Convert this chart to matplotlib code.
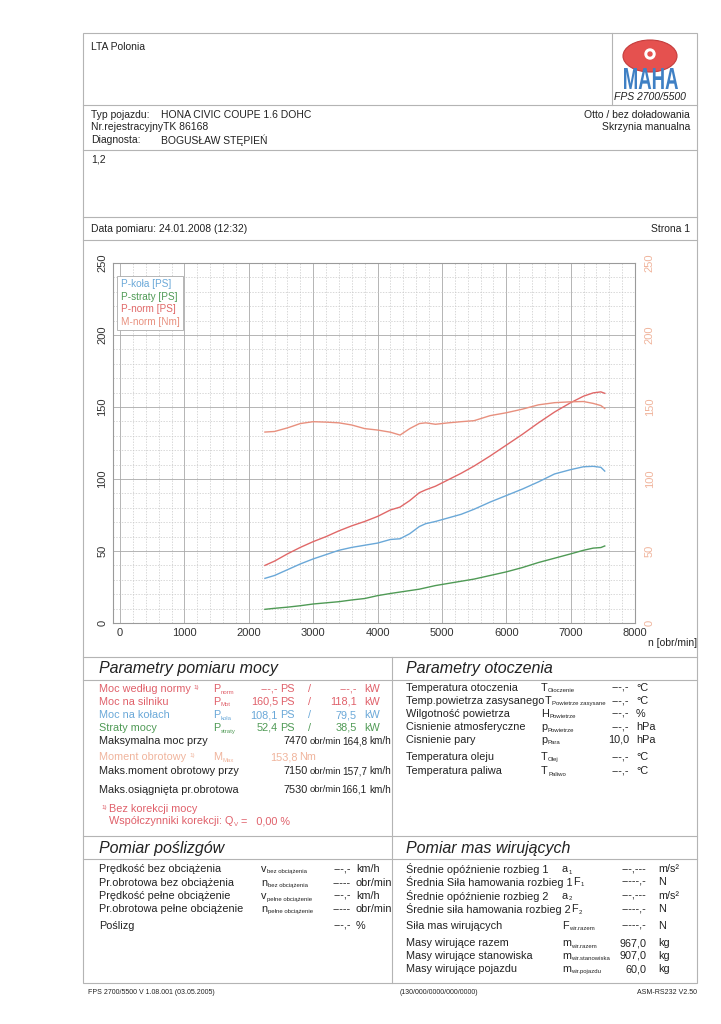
import matplotlib
matplotlib.use("Agg")
import matplotlib.pyplot as plt
from matplotlib.lines import Line2D
from matplotlib.patches import Ellipse, Circle, Rectangle, PathPatch
from matplotlib.textpath import TextPath
from matplotlib.font_manager import FontProperties
from matplotlib.transforms import Affine2D

plt.rcParams['font.family'] = ['Liberation Sans', 'DejaVu Sans']

W, H = 721, 1024

# curves (rpm, PS / Nm)
rpm = [2250, 2400, 2600, 2800, 3000, 3200, 3400, 3600, 3800, 4000, 4200, 4350, 4500, 4650,
       4750, 4900, 5100, 5300, 5500, 5750, 6000, 6250, 6500, 6750, 7000, 7200, 7350, 7470, 7530]
p_kola = [31, 33, 37, 41, 44.5, 47.5, 50.5, 52.5, 54, 55.5, 58, 58.5, 62, 67,
          69, 70.5, 73, 75.5, 79, 84, 88.5, 93, 98, 103.5, 106.5, 108.5, 108.8, 108.1, 105.5]
p_straty = [9.5, 10.2, 11, 12, 13.2, 14, 14.8, 16, 17, 19, 20.5, 21.5, 22.5, 23.5,
            24.5, 26, 27.5, 29, 30.5, 33, 35.5, 38.5, 42, 45, 48, 50.5, 52, 52.4, 53.5]
p_norm = [40, 43, 48, 52.5, 56.5, 60, 64, 67.5, 70.5, 74, 78.5, 80.5, 85, 90.5,
          92.5, 95, 99.5, 104, 109, 116, 123.5, 131, 139, 146.5, 153, 157.5, 159.8, 160.5, 159.5]
m_norm = [132.6, 133, 135.5, 138.5, 139.8, 139.5, 139, 137.5, 135, 134, 132.5, 130.5, 135, 138.5,
          139, 138, 139, 139.8, 140.5, 144, 146, 148.5, 151.5, 153, 153.6, 153.8, 152.5, 151, 149]

x_ticks = [0, 1000, 2000, 3000, 4000, 5000, 6000, 7000, 8000]
y_ticks = [0, 50, 100, 150, 200, 250]
legend_labels = ['P-koła [PS]', 'P-straty [PS]', 'P-norm [PS]', 'M-norm [Nm]']

c_kola = '#6aa8d8'
c_straty = '#4f9a55'
c_norm = '#e06868'
c_moment = '#e8907e'
c_right = '#f0b49c'
red = '#e0606a'
ink = '#222222'
rule = '#b4b4b4'

fig = plt.figure(figsize=(W / 100, H / 100), dpi=100, facecolor='white')
rend = fig.canvas.get_renderer()


def T(x, y, s, fs=7.8, color=ink, ha='left', **kw):
    return fig.text(x / W, 1 - y / H, s, fontsize=fs, color=color, ha=ha, va='center', **kw)


def right_of(t):
    return t.get_window_extent(rend).x1


def hline(y, x0=83, x1=697):
    fig.add_artist(Line2D([x0 / W, x1 / W], [1 - y / H, 1 - y / H],
                          transform=fig.transFigure, color=rule, lw=0.8))


def vline(x, y0, y1):
    fig.add_artist(Line2D([x / W, x / W], [1 - y0 / H, 1 - y1 / H],
                          transform=fig.transFigure, color=rule, lw=0.8))


def sym(x, y, main, sub, color=ink):
    t = T(x, y, main, color=color)
    if sub:
        T(right_of(t) + 0.5, y + 3, sub, fs=4.3, color=color)


# frame and rules
fig.add_artist(Rectangle((83 / W, 1 - 983 / H), 614 / W, 950 / H, transform=fig.transFigure,
                         fill=False, edgecolor=rule, lw=0.8))
for yy in [105, 150, 217, 240, 657, 680, 836, 859]:
    hline(yy)
vline(612, 33, 105)
vline(392, 657, 983)

# header
T(91, 47, 'LTA Polonia', fs=7.5)
T(91, 115, 'Typ pojazdu:', fs=7.5)
T(161, 115, 'HONA CIVIC COUPE 1.6 DOHC', fs=7.5)
T(91, 127, 'Nr.rejestracyjnyTK 86168', fs=7.5)
T(91, 140, 'Diagnosta:', fs=7.5)
T(161, 140, 'BOGUSŁAW STĘPIEŃ', fs=7.5)
T(690, 115, 'Otto / bez doładowania', fs=7.5, ha='right')
T(690, 127, 'Skrzynia manualna', fs=7.5, ha='right')
T(91, 160, '1,2', fs=7.5)
T(91, 229, 'Data pomiaru: 24.01.2008 (12:32)', fs=7.5)
T(690, 229, 'Strona 1', fs=7.5, ha='right')

# logo
lax = fig.add_axes([615 / W, 1 - 92 / H, 73 / W, 58 / H])
lax.set_xlim(0, 73)
lax.set_ylim(58, 0)
lax.axis('off')
lax.add_patch(Ellipse((35, 22), 54, 32, facecolor='#e5514f', edgecolor='#c43c3c', lw=0.8))
lax.add_patch(Circle((35, 20), 5, color='white'))
lax.add_patch(Circle((35, 20), 2, color='#e5514f'))
tp = TextPath((0, 0), 'MAHA', size=10, prop=FontProperties(family='Liberation Sans', weight='bold'))
bb = tp.get_extents()
tr = Affine2D().translate(-bb.x0, -bb.y0).scale(54 / bb.width, -21 / bb.height).translate(9, 55)
lax.add_patch(PathPatch(tr.transform_path(tp), facecolor='#3f80c4', edgecolor='none'))
T(650, 97, 'FPS 2700/5500', fs=7.5, ha='center', style='italic')

# chart
ax = fig.add_axes([113 / W, 1 - 623 / H, 522 / W, 360 / H])
ax.set_xlim(-110, 8000)
ax.set_ylim(0, 250)
ax.set_xticks(x_ticks)
ax.set_xticks(range(0, 8001, 200), minor=True)
ax.set_yticks(y_ticks)
ax.set_yticks(range(0, 251, 10), minor=True)
ax.grid(which='major', color='#a8a8a8', lw=0.6)
ax.grid(which='minor', color='#c8c8c8', lw=0.5, ls=(0, (2, 2)))
ax.set_axisbelow(True)
ax.tick_params(which='both', length=0, labelsize=8, colors='#333333')
ax.tick_params(axis='y', labelrotation=90, pad=4)
for sp in ax.spines.values():
    sp.set_color('#9a9a9a')
    sp.set_linewidth(0.8)

l1, = ax.plot(rpm, p_kola, color=c_kola, lw=1)
l2, = ax.plot(rpm, p_straty, color=c_straty, lw=1)
l3, = ax.plot(rpm, p_norm, color=c_norm, lw=1)
ax2 = ax.twinx()
ax2.set_ylim(0, 250)
ax2.set_yticks(y_ticks)
ax2.tick_params(length=0, labelsize=8, labelcolor=c_right, labelrotation=90, pad=7)
for sp in ax2.spines.values():
    sp.set_visible(False)
l4, = ax2.plot(rpm, m_norm, color=c_moment, lw=1)
for lbl in ax.get_yticklabels() + ax2.get_yticklabels():
    lbl.set_va('center')

leg = ax2.legend([l1, l2, l3, l4], legend_labels, loc='upper left', bbox_to_anchor=(0.008, 0.965),
                 borderaxespad=0, handlelength=0, handletextpad=0, labelcolor='linecolor',
                 fontsize=7.2, fancybox=False, edgecolor='#aaaaaa', framealpha=1,
                 borderpad=0.35, labelspacing=0.25)
leg.get_frame().set_linewidth(0.6)
T(697, 643, 'n [obr/min]', fs=7.5, ha='right')

# power section
T(99, 669, 'Parametry pomiaru mocy', fs=11.5, style='italic')
t = T(99, 689, 'Moc według normy', color=red)
T(right_of(t) + 3, 687, '1)', fs=4.5, color=red)
sym(213, 689, 'P', 'norm', red)
T(278, 689, '---,-', color=red, ha='right')
T(280, 689, 'PS', color=red)
T(308, 689, '/', color=red)
T(357, 689, '---,-', color=red, ha='right')
T(364, 689, 'kW', color=red)

power_rows = [
    ('Moc na silniku', 'Mot', '160,5', '118,1', red, 702),
    ('Moc na kołach', 'koła', '108,1', '79,5', c_kola, 715),
    ('Straty mocy', 'straty', '52,4', '38,5', c_straty, 728),
]
for lab, sub, v1, v2, col, yy in power_rows:
    T(99, yy, lab, color=col)
    sym(213, yy, 'P', sub, col)
    T(278, yy, v1, color=col, ha='right')
    T(280, yy, 'PS', color=col)
    T(308, yy, '/', color=col)
    T(357, yy, v2, color=col, ha='right')
    T(364, yy, 'kW', color=col)

speed_rows = [
    ('Maksymalna moc przy', '7470', '164,8', 741),
    ('Maks.moment obrotowy przy', '7150', '157,7', 771),
    ('Maks.osiągnięta pr.obrotowa', '7530', '166,1', 790),
]
for lab, n, v, yy in speed_rows:
    T(99, yy, lab)
    T(308, yy, n, ha='right')
    T(310, yy, 'obr/min', fs=6.8)
    T(367, yy, v, fs=7.2, ha='right')
    T(369, yy, 'km/h', fs=7.2)

t = T(99, 757, 'Moment obrotowy', color=c_right)
T(right_of(t) + 3, 755, '1)', fs=4.5, color=c_right)
sym(213, 757, 'M', 'Max', c_right)
T(270, 757, '153,8', color=c_right)
T(299, 757, 'Nm', color=c_right)
T(101, 807, '1)', fs=4.5, color=red)
T(109, 809, 'Bez korekcji mocy', color=red)
t = T(109, 821, 'Współczynniki korekcji: Q', color=red)
t2 = T(right_of(t) + 0.5, 824, 'V', fs=4.5, color=red)
T(right_of(t2) + 3, 821, '=   0,00 %', color=red)

# ambient section
T(406, 669, 'Parametry otoczenia', fs=11.5, style='italic')
amb_rows = [
    ('Temperatura otoczenia', 'T', 'Otoczenie', '---,-', '°C', 688),
    ('Temp.powietrza zasysanego', 'T', 'Powietrze zasysane', '---,-', '°C', 701),
    ('Wilgotność powietrza', 'H', 'Powietrze', '---,-', '%', 714),
    ('Cisnienie atmosferyczne', 'p', 'Powietrze', '---,-', 'hPa', 727),
    ('Cisnienie pary', 'p', 'Para', '10,0', 'hPa', 740),
    ('Temperatura oleju', 'T', 'Olej', '---,-', '°C', 757),
    ('Temperatura paliwa', 'T', 'Paliwo', '---,-', '°C', 771),
]
for lab, s, sub, v, u, yy in amb_rows:
    t = T(406, yy, lab)
    sym(max(541, right_of(t) + 0.5), yy, s, sub)
    T(629, yy, v, ha='right')
    T(636, yy, u)

# slip section
T(99, 849, 'Pomiar poślizgów', fs=11.5, style='italic')
slip_rows = [
    ('Prędkość bez obciążenia', 'v', 'bez obciążenia', '---,-', 'km/h', 869),
    ('Pr.obrotowa bez obciążenia', 'n', 'bez obciążenia', '-----', 'obr/min', 883),
    ('Prędkość pełne obciążenie', 'v', 'pełne obciążenie', '---,-', 'km/h', 896),
    ('Pr.obrotowa pełne obciążenie', 'n', 'pełne obciążenie', '-----', 'obr/min', 909),
    ('Poślizg', '', '', '---,-', '%', 926),
]
for lab, s, sub, v, u, yy in slip_rows:
    T(99, yy, lab)
    if s:
        sym(261, yy, s, sub)
    T(351, yy, v, ha='right')
    T(356, yy, u)

# rotating masses section
T(406, 849, 'Pomiar mas wirujących', fs=11.5, style='italic')
mass_rows = [
    ('Średnie opóźnienie rozbieg 1', 'a', '1', '---,---', 'm/s²', 869),
    ('Średnia Siła hamowania rozbieg 1', 'F', '1', '-----,-', 'N', 882),
    ('Średnie opóźnienie rozbieg 2', 'a', '2', '---,---', 'm/s²', 896),
    ('Średnie siła hamowania rozbieg 2', 'F', '2', '-----,-', 'N', 909),
    ('Siła mas wirujących', 'F', 'wir.razem', '-----,-', 'N', 926),
    ('Masy wirujące razem', 'm', 'wir.razem', '967,0', 'kg', 943),
    ('Masy wirujące stanowiska', 'm', 'wir.stanowiska', '907,0', 'kg', 956),
    ('Masy wirujące pojazdu', 'm', 'wir.pojazdu', '60,0', 'kg', 969),
]
for lab, s, sub, v, u, yy in mass_rows:
    t = T(406, yy, lab)
    sym(max(562, right_of(t) + 0.5), yy, s, sub)
    T(646, yy, v, ha='right')
    T(658, yy, u)

# footer
T(88, 992, 'FPS 2700/5500 V 1.08.001 (03.05.2005)', fs=5)
T(400, 992, '(130/000/0000/000/0000)', fs=5)
T(697, 992, 'ASM-RS232 V2.50', fs=5, ha='right')

fig.savefig('out.png', dpi=100, facecolor='white')
